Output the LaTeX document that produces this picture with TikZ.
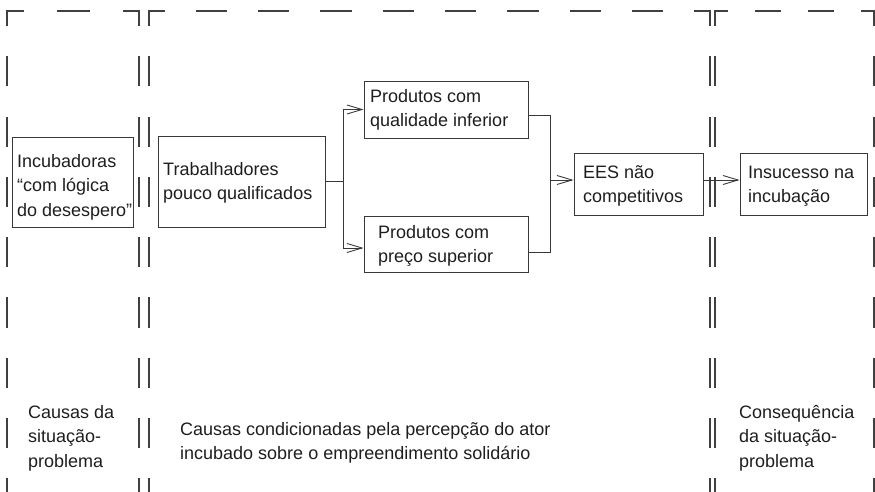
\documentclass[tikz,border=0pt]{standalone}
\usepackage{fontspec}
\setmainfont{Liberation Sans}
\usetikzlibrary{arrows.meta}
\definecolor{ln}{HTML}{383838}
\definecolor{dl}{HTML}{404040}
\definecolor{tx}{HTML}{1E1E1E}
\begin{document}
\begin{tikzpicture}[x=1pt,y=-1pt,
  box/.style={draw=ln, line width=0.9pt, inner sep=0pt},
  txt/.style={inner sep=0pt, align=left, anchor=base west, text=tx,
    font=\fontsize{18}{24.5}\selectfont},
  conn/.style={draw=ln, line width=0.9pt},
  arr/.style={-{Straight Barb[length=15pt,width=9pt]}},
  frame/.style={draw=dl, line width=1.1pt},
  vdash/.style={frame, dash pattern=on 30.15pt off 30.15pt, dash phase=15.07pt}]
\useasboundingbox (0,0) rectangle (875,492);
\clip (0,0) rectangle (875,492);
% dashed frames (open at the bottom)
\foreach \xx in {7,139,149,710,715,874} {\draw[vdash] (\xx,11) -- (\xx,520);}
\draw[frame, dash pattern=on 33pt off 33pt, dash phase=16.5pt] (7,11) -- (139,11);
\draw[frame, dash pattern=on 31.17pt off 31.17pt, dash phase=15.58pt] (149,11) -- (710,11);
\draw[frame, dash pattern=on 26.5pt off 26.5pt, dash phase=13.25pt] (715,11) -- (874,11);
\draw[frame] (7,26.07) -- (7,11) -- (23.5,11);
\draw[frame] (139,26.07) -- (139,11) -- (122.5,11);
\draw[frame] (149,26.07) -- (149,11) -- (164.58,11);
\draw[frame] (710,26.07) -- (710,11) -- (694.42,11);
\draw[frame] (715,26.07) -- (715,11) -- (728.25,11);
\draw[frame] (874,26.07) -- (874,11) -- (860.75,11);
% boxes
\node[box, minimum width=121pt, minimum height=90pt] (inc) at (72.5,182) {};
\node[box, minimum width=167pt, minimum height=91pt] (trab) at (241.5,181.5) {};
\node[box, minimum width=164pt, minimum height=57pt] (prodq) at (446,109.5) {};
\node[box, minimum width=164pt, minimum height=56pt] (prodp) at (446,244) {};
\node[box, minimum width=129pt, minimum height=62pt] (ees) at (638.5,184) {};
\node[box, minimum width=127pt, minimum height=62pt] (ins) at (803.5,184) {};
% box texts (anchored at the baseline of their last line)
\node[txt] (inct) at (17,216) {Incubadoras\\“com lógica\\do desespero”};
\node[txt] (trabt) at (163,199.5) {Trabalhadores\\pouco qualificados};
\node[txt] (prodqt) at (370,126.5) {Produtos com\\qualidade inferior};
\node[txt] (prodpt) at (378,262.5) {Produtos com\\preço superior};
\node[txt] (eest) at (583,202.5) {EES não\\competitivos};
\node[txt] (inst) at (748,202.5) {Insucesso na\\incubação};
% column captions
\node[txt] (c1) at (28,467) {Causas da\\situação-\\problema};
\node[txt] (c2) at (180,459.5) {Causas condicionadas pela percepção do ator\\incubado sobre o empreendimento solidário};
\node[txt] (c3) at (739,467) {Consequência\\da situação-\\problema};
% connectors
\coordinate (j1) at (343,181.5);
\coordinate (j2) at (550,180);
\draw[conn] (trab.east) -- (j1);
\draw[conn,arr] (j1) |- (prodq.west);
\draw[conn,arr] (j1) |- ([yshift=-4pt]prodp.west);
\draw[conn] ([yshift=-5.5pt]prodq.east) -| (j2);
\draw[conn] ([yshift=-8pt]prodp.east) -| (j2);
\draw[conn,arr] (j2) -- (ees.west |- j2);
\draw[conn,arr] (ees.east |- j2) -- (ins.west |- j2);
\end{tikzpicture}
\end{document}
